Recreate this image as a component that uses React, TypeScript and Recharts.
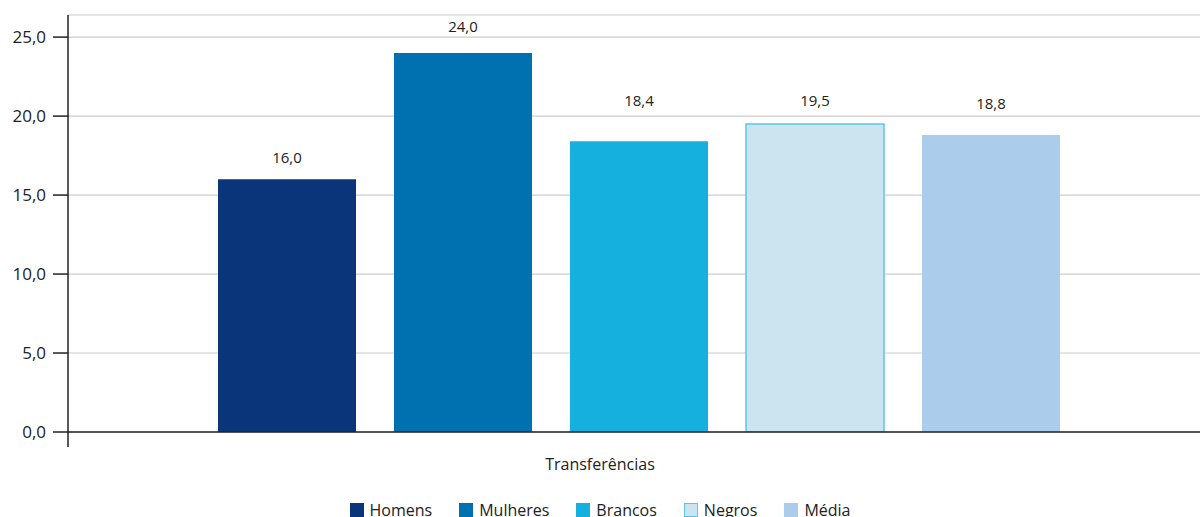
import React from 'react';
import { BarChart, Bar, XAxis, YAxis, CartesianGrid, Legend, LabelList } from 'recharts';

const categories = ['Transferências'];
const seriesNames = ['Homens', 'Mulheres', 'Brancos', 'Negros', 'Média'];
const homens = [16.0];
const mulheres = [24.0];
const brancos = [18.4];
const negros = [19.5];
const media = [18.8];
const yTicks = [0, 5, 10, 15, 20, 25];

const seriesValues = [homens, mulheres, brancos, negros, media];
const fills = ['#0b357a', '#0071b0', '#15b0de', '#cce4f0', '#abcdeb'];
const strokes = ['none', 'none', 'none', '#5cc5ea', 'none'];
const labelOffsets = [16, 21, 35, 18, 26];

const data = categories.map((c, i) => {
  const row: Record<string, any> = { cat: c };
  seriesNames.forEach((s, j) => {
    row[s] = seriesValues[j][i];
  });
  return row;
});

const fmt = (v: any) => Number(v).toFixed(1).replace('.', ',');

const CategoryTick = (props: any) => {
  const { x, y, payload } = props;
  const half = payload && typeof payload.offset === 'number' ? payload.offset : 0;
  return (
    <g>
      <line x1={x - half} x2={x - half} y1={y} y2={y + 15} stroke="#222" strokeWidth={1.5} />
      <text x={x} dx={-40} y={y + 38} textAnchor="middle" fill="#222" fontSize={16}>
        {payload.value}
      </text>
    </g>
  );
};

const LegendContent = () => (
  <div
    style={{
      display: 'flex',
      justifyContent: 'center',
      height: 40,
      boxSizing: 'border-box',
      paddingTop: 18,
      fontFamily: '"Open Sans", sans-serif',
    }}
  >
    {seriesNames.map((s, i) => (
      <div key={s} style={{ display: 'flex', alignItems: 'center', marginRight: i < seriesNames.length - 1 ? 27 : 0, height: 20 }}>
        <span
          style={{
            width: 14,
            height: 14,
            boxSizing: 'border-box',
            background: fills[i],
            border: strokes[i] !== 'none' ? `1.5px solid ${strokes[i]}` : 'none',
            display: 'inline-block',
          }}
        />
        <span style={{ marginLeft: 6, fontSize: 16, color: '#222', lineHeight: '20px' }}>{s}</span>
      </div>
    ))}
  </div>
);

export default function App() {
  return (
    <div
      style={{
        position: 'absolute',
        left: 0,
        top: 0,
        width: 1200,
        height: 517,
        overflow: 'hidden',
        fontFamily: '"Open Sans", sans-serif',
        background: '#fff',
      }}
    >
      <BarChart
        width={1217}
        height={522}
        data={data}
        margin={{ top: 15, right: 5, bottom: 0, left: 0 }}
        barCategoryGap={150}
        barGap={38}
      >
        <CartesianGrid vertical={false} stroke="#cccccc" strokeWidth={1.2} />
        <XAxis
          dataKey="cat"
          height={50}
          tickSize={0}
          tickMargin={0}
          tickLine={false}
          axisLine={{ stroke: '#222', strokeWidth: 1.5 }}
          tick={<CategoryTick />}
          interval={0}
        />
        <XAxis
          xAxisId="top"
          dataKey="cat"
          orientation="top"
          height={0}
          tick={false}
          tickLine={false}
          axisLine={{ stroke: '#666', strokeWidth: 2 }}
        />
        <YAxis
          width={68}
          domain={[0, 26.4]}
          ticks={yTicks}
          tickFormatter={fmt}
          tickSize={15}
          tickMargin={7}
          tickLine={{ stroke: '#222', strokeWidth: 1.5 }}
          axisLine={{ stroke: '#222', strokeWidth: 1.5 }}
          tick={{ fill: '#222', fontSize: 17 }}
          allowDataOverflow
        />
        <Legend verticalAlign="bottom" content={<LegendContent />} wrapperStyle={{ left: 0, width: 1200, height: 40 }} />
        {seriesNames.map((s, i) => (
          <Bar
            key={s}
            dataKey={s}
            fill={fills[i]}
            stroke={strokes[i]}
            strokeWidth={strokes[i] !== 'none' ? 1.5 : 0}
            isAnimationActive={false}
          >
            <LabelList dataKey={s} position="top" offset={labelOffsets[i]} formatter={fmt} fill="#222" fontSize={15} />
          </Bar>
        ))}
      </BarChart>
    </div>
  );
}
